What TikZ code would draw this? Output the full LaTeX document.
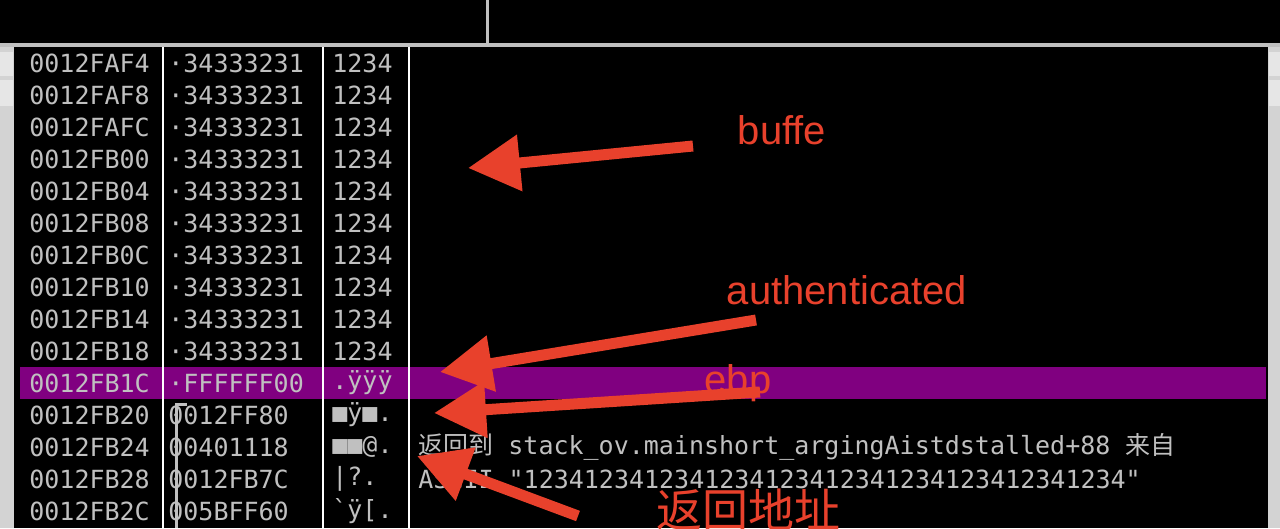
\documentclass[tikz,border=0pt]{standalone}
\usepackage{fontspec}
\setmonofont{DejaVu Sans Mono}
\setsansfont{Liberation Sans}
\newfontfamily\cjk{Noto Sans CJK SC}
\usetikzlibrary{arrows.meta}
\definecolor{dbggrey}{RGB}{192,192,192}
\definecolor{dbgpurple}{RGB}{128,0,128}
\definecolor{markred}{RGB}{232,65,44}
\tikzset{every picture/.style={line width=0.75pt},
  cell/.style={anchor=west,inner sep=0pt,text=dbggrey,font=\ttfamily\fontsize{25}{25}\selectfont},
  note/.style={anchor=center,inner sep=0pt,text=markred,font=\sffamily\fontsize{40}{40}\selectfont},
  redarrow/.style={draw=markred,line width=11pt,-{Triangle[length=52pt,width=54pt]}}}

\begin{document}
\begin{tikzpicture}[x=1pt,y=1pt,yscale=-1,xscale=1]
\useasboundingbox (0,0) rectangle (1280,528);
%background
\fill[black] (0,0) rectangle (1280,528);
\fill[dbggrey] (0,43) rectangle (1280,47);
\fill[dbggrey] (486,0) rectangle (489,43);
%scrollbars
\fill[dbggrey!70] (0,47) rectangle (14,528);
\fill[dbggrey!40] (0,52) rectangle (13,76);
\fill[dbggrey!40] (0,80) rectangle (13,106);
\fill[dbggrey!70] (1268,47) rectangle (1280,528);
\fill[dbggrey!40] (1269,52) rectangle (1280,76);
\fill[dbggrey!40] (1269,80) rectangle (1280,106);
%selected row
\fill[dbgpurple] (20,367) rectangle (1266,399);
%column separators
\foreach \cx in {163,323,409}
  \draw[white,line width=2pt] (\cx,47) -- (\cx,528);
%rows
\foreach \a/\v/\s [count=\i from 0] in {
  0012FAF4/{·34333231}/1234, 0012FAF8/{·34333231}/1234,
  0012FAFC/{·34333231}/1234, 0012FB00/{·34333231}/1234,
  0012FB04/{·34333231}/1234, 0012FB08/{·34333231}/1234,
  0012FB0C/{·34333231}/1234, 0012FB10/{·34333231}/1234,
  0012FB14/{·34333231}/1234, 0012FB18/{·34333231}/1234,
  0012FB1C/{·FFFFFF00}/{.ÿÿÿ}, 0012FB20/{ 0012FF80}/{■ÿ■.},
  0012FB24/{ 00401118}/{■■@.}, 0012FB28/{ 0012FB7C}/{|?.},
  0012FB2C/{ 005BFF60}/{`ÿ[.}}{
  \node[cell] (addr\i) at (29,63+32*\i) {\a};
  \node[cell] (val\i) at (168,63+32*\i) {\v};
  \node[cell] (asc\i) at (332,63+32*\i) {\s};
}
%frame bracket
\draw[dbggrey,line width=3pt] (187,404) -- (176,404) -- (176,528);
%comments
\node[cell] (cmt1) at (418,447) {{\cjk 返回到} stack\_ov.mainshort\_argingAistdstalled+88 {\cjk 来自}};
\node[cell] (cmt2) at (418,479) {ASCII "1234123412341234123412341234123412341234"};
%labels
\node[note] (buffe) at (782,130) {buffe};
\node[note] (auth) at (847,290) {authenticated};
\node[note] (ebp) at (738,383) {ebp};
\node[note,font=\cjk\fontsize{46}{46}\selectfont] (ret) at (748,510) {返回地址};
%arrows
\coordinate (tipbuf) at (468,168);
\coordinate (tipauth) at (440,372);
\coordinate (tipebp) at (434,413);
\coordinate (tipret) at (417,456);
\draw[redarrow] (693,146) -- (tipbuf);
\draw[redarrow] (756,320) -- (tipauth);
\draw[redarrow] (760,392) -- (tipebp);
\draw[redarrow] (578,516) -- (tipret);
\end{tikzpicture}
\end{document}
